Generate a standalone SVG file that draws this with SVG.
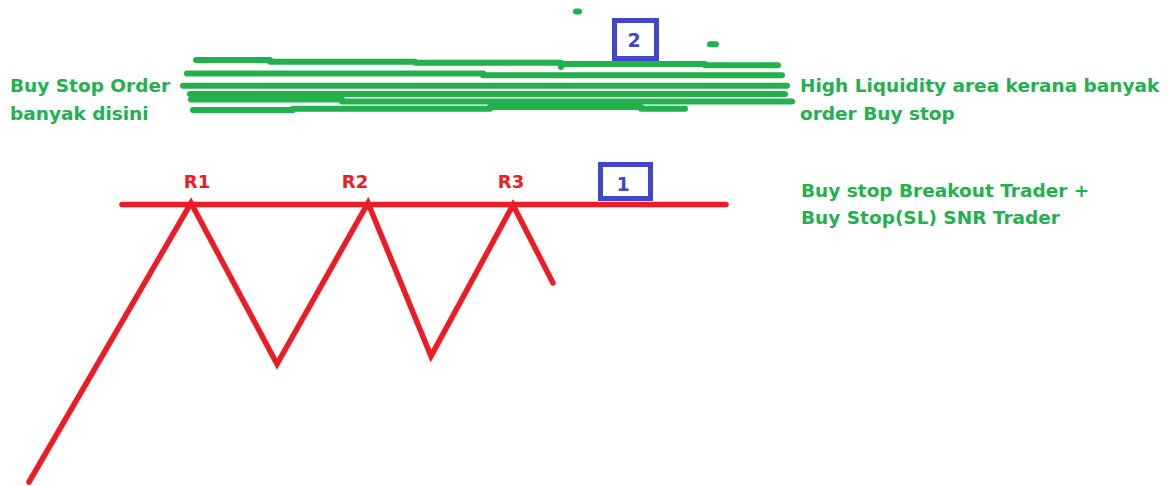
<svg xmlns="http://www.w3.org/2000/svg" width="1167" height="486" viewBox="0 0 1167 486">
<style>
.g{fill:none;stroke:#22b14c;stroke-width:6;stroke-linecap:round;stroke-linejoin:round}
.r{fill:none;stroke:#ed1c24;stroke-width:5.5;stroke-linecap:round;stroke-linejoin:miter}
.box{fill:#fff;stroke:#3f48cc;stroke-width:5}
.gt{font-family:"DejaVu Sans",Verdana,sans-serif;font-weight:bold;font-size:18.5px;fill:#22b14c}
.rt{font-family:"DejaVu Sans",Verdana,sans-serif;font-weight:bold;font-size:18px;fill:#ed1c24;text-anchor:middle}
.bt{font-family:"DejaVu Sans",Verdana,sans-serif;font-weight:bold;font-size:19px;fill:#3f48cc;text-anchor:middle}
</style>
<rect width="1167" height="486" fill="#fff"/>
<g id="liquidity-strokes">
<path class="g" d="M196 60H270M270 61.7H415M415 62.7H560M560 64H705M705 65.3H778"/>
<path class="g" d="M561 63L561 67"/>
<path class="g" d="M187 73.5H483M483 75.3H782"/>
<path class="g" d="M183 85.8H787"/>
<path class="g" d="M190 94H785"/>
<path class="g" d="M191 99.5H342M342 101.5H792"/>
<path class="g" d="M193 110H293M293 108.7H490M490 107H641M641 108.7H685"/>
<path class="g" d="M576 11.5H579"/>
<path class="g" d="M710 44.3H716"/>
</g>
<g id="connectors">
<path class="r" d="M122 204.5H726"/>
<polyline class="r" points="29,482 191,203 277,364 368,203 431,356 513,205 553,283"/>
</g>
<g id="box-2">
<rect class="box" x="614.5" y="20.5" width="42" height="38"/>
<text class="bt" x="634" y="47">2</text>
</g>
<g id="box-1">
<rect class="box" x="600.5" y="164.5" width="50" height="34"/>
<text class="bt" x="623" y="191">1</text>
</g>
<g id="label-r1"><text class="rt" x="197" y="188">R1</text></g>
<g id="label-r2"><text class="rt" x="355" y="188">R2</text></g>
<g id="label-r3"><text class="rt" x="511" y="188">R3</text></g>
<g id="label-buy-stop-order">
<text class="gt" x="10" y="92">Buy Stop Order</text>
<text class="gt" x="10" y="120">banyak disini</text>
</g>
<g id="label-high-liquidity">
<text class="gt" x="800" y="92">High Liquidity area kerana banyak</text>
<text class="gt" x="800" y="120">order Buy stop</text>
</g>
<g id="label-breakout">
<text class="gt" x="801" y="197">Buy stop Breakout Trader +</text>
<text class="gt" x="801" y="224">Buy Stop(SL) SNR Trader</text>
</g>
</svg>
